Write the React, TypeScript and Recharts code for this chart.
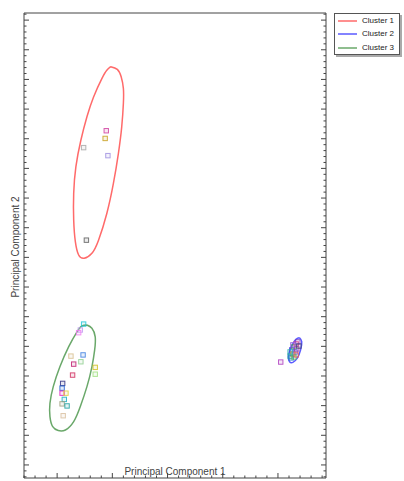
import { ComposedChart, Scatter, Line, XAxis, YAxis, Cell } from 'recharts';

// PCA scores, [PC1, PC2]
const cluster1Points = [
  [0.89, 11.27], [0.87, 11.01], [0.48, 10.7], [0.92, 10.43], [0.53, 7.58],
];
const cluster2Points = [
  [4.05, 3.47], [4.25, 3.88], [4.29, 3.98], [4.33, 4.08], [4.36, 4.15],
  [4.22, 3.67], [4.27, 3.74], [4.31, 3.81], [4.34, 3.91], [4.24, 3.61],
  [4.29, 3.64], [4.33, 3.71], [4.38, 4.01], [4.27, 4.05], [4.22, 3.81],
];
const cluster3Points = [
  [0.48, 4.75], [0.42, 4.55], [0.39, 4.46], [0.25, 3.67], [0.47, 3.71],
  [0.3, 3.4], [0.43, 3.48], [0.69, 3.29], [0.69, 3.06], [0.28, 3.03],
  [0.1, 2.75], [0.09, 2.59], [0.09, 2.42], [0.16, 2.42], [0.13, 2.21],
  [0.09, 2.06], [0.18, 1.99], [0.11, 1.66],
];

// cluster ellipses, traced round the outline
const cluster1Outline = [
  [0.97, 13.43], [1.09, 13.34], [1.16, 13.09], [1.2, 12.7], [1.2, 12.19],
  [1.17, 11.4], [1.11, 10.51], [1.02, 9.5], [0.9, 8.48], [0.75, 7.58],
  [0.63, 7.14], [0.49, 6.97], [0.39, 7.08], [0.33, 7.53], [0.3, 8.26],
  [0.3, 9.16], [0.34, 10.06], [0.43, 10.95], [0.54, 11.74], [0.66, 12.41],
  [0.81, 13.03], [0.9, 13.31], [0.97, 13.43],
];
const cluster2Outline = [
  [4.39, 4.29], [4.43, 4.16], [4.41, 3.88], [4.35, 3.6], [4.27, 3.46],
  [4.21, 3.48], [4.19, 3.65], [4.23, 3.93], [4.3, 4.18], [4.35, 4.27],
  [4.39, 4.29],
];
const cluster3Outline = [
  [0.54, 4.72], [0.63, 4.61], [0.69, 4.32], [0.68, 3.88], [0.63, 3.31],
  [0.54, 2.64], [0.42, 1.97], [0.3, 1.46], [0.15, 1.18], [0.02, 1.16],
  [-0.08, 1.29], [-0.13, 1.63], [-0.13, 2.08], [-0.07, 2.64], [0.05, 3.31],
  [0.21, 3.99], [0.36, 4.49], [0.45, 4.69], [0.54, 4.72],
];

const clusterNames = ['Cluster 1', 'Cluster 2', 'Cluster 3'];

const clusterColors = ['#ff6a6a', '#5a5aff', '#6aa86a'];
const pointColors1 = ['#d040a0', '#c8a020', '#a8a8a8', '#a090e0', '#606060'];
const pointColors2 = [
  '#b040c0', '#4040e0', '#40a040', '#e04080', '#8040c0', '#20a0a0', '#c0a020',
  '#6060ff', '#a040a0', '#2080c0', '#60c060', '#e06060', '#404080', '#9060e0', '#30b0b0',
];
const pointColors3 = [
  '#20c8d8', '#c0a0f0', '#f080f0', '#d8c090', '#4080e0', '#c02070', '#90d090',
  '#d0c020', '#a0e080', '#d03060', '#303080', '#2060d0', '#e020c0', '#e0d040',
  '#20b0c0', '#a0a080', '#20a0a0', '#d8c0a0',
];

const toXY = (pts: number[][]) => pts.map(([x, y]) => ({ x, y }));

const xTicks = Array.from({ length: 28 }, (_, i) => Math.round((-0.6 + i * 0.2) * 10) / 10);
const yTicks = Array.from({ length: 79 }, (_, i) => Math.round((-0.4 + i * 0.2) * 10) / 10);
const isMajor = (v: number) => Math.abs(v - Math.round(v)) < 1e-6;

const makeTick = (side: string) => (props: any) => {
  const { x, y, payload } = props;
  const len = isMajor(payload.value) ? 5 : 2.5;
  const dx = side === 'left' ? len : side === 'right' ? -len : 0;
  const dy = side === 'bottom' ? -len : side === 'top' ? len : 0;
  return <line x1={x} y1={y} x2={x + dx} y2={y + dy} stroke="#444" strokeWidth={1} />;
};

const Square = (props: any) => {
  const { cx, cy, fill } = props;
  if (cx == null || cy == null) return null;
  return (
    <rect
      x={cx - 2.2} y={cy - 2.2} width={4.4} height={4.4}
      fill={fill} fillOpacity={0.12} stroke={fill} strokeOpacity={0.85} strokeWidth={1}
    />
  );
};

const series = [
  { points: cluster1Points, colors: pointColors1 },
  { points: cluster2Points, colors: pointColors2 },
  { points: cluster3Points, colors: pointColors3 },
];
const outlines = [cluster1Outline, cluster2Outline, cluster3Outline];

const X_DOMAIN: [number, number] = [-0.6, 4.87];
const Y_DOMAIN: [number, number] = [-0.44, 15.24];

export default function App() {
  return (
    <div
      style={{
        position: 'absolute', left: 0, top: 0, width: 404, height: 481,
        background: '#fff', fontFamily: '"Liberation Sans", Arial, sans-serif', overflow: 'hidden',
      }}
    >
      <ComposedChart width={404} height={481} margin={{ top: 13, right: 78, bottom: 3, left: 24 }}>
        <XAxis
          type="number" dataKey="x" domain={X_DOMAIN} allowDataOverflow ticks={xTicks} interval={0}
          mirror tickSize={0} tickMargin={0} tickLine={false} tick={makeTick('bottom')}
          axisLine={{ stroke: '#444' }}
        />
        <XAxis
          xAxisId="top" orientation="top" type="number" domain={X_DOMAIN} allowDataOverflow ticks={xTicks}
          interval={0} mirror tickSize={0} tickMargin={0} tickLine={false} tick={makeTick('top')}
          axisLine={{ stroke: '#444' }}
        />
        <YAxis
          type="number" dataKey="y" domain={Y_DOMAIN} allowDataOverflow ticks={yTicks} interval={0}
          mirror tickSize={0} tickMargin={0} tickLine={false} tick={makeTick('left')}
          axisLine={{ stroke: '#444' }}
        />
        <YAxis
          yAxisId="right" orientation="right" type="number" domain={Y_DOMAIN} allowDataOverflow ticks={yTicks}
          interval={0} mirror tickSize={0} tickMargin={0} tickLine={false} tick={makeTick('right')}
          axisLine={{ stroke: '#444' }}
        />
        {series.map((s, i) => (
          <Scatter key={'pts' + i} data={toXY(s.points)} shape={Square} isAnimationActive={false}>
            {s.points.map((_, j) => (
              <Cell key={j} fill={s.colors[j % s.colors.length]} />
            ))}
          </Scatter>
        ))}
        {outlines.map((o, i) => (
          <Line
            key={'ell' + i} data={toXY(o)} dataKey="y" type="natural" stroke={clusterColors[i]}
            strokeWidth={1.5} dot={false} activeDot={false} isAnimationActive={false}
          />
        ))}
      </ComposedChart>

      <div
        style={{
          position: 'absolute', left: 75, top: 466, width: 200, textAlign: 'center',
          fontSize: 10, lineHeight: '12px', color: '#444',
        }}
      >
        Principal Component 1
      </div>
      <div
        style={{
          position: 'absolute', left: -84, top: 241, width: 200, height: 12, textAlign: 'center',
          fontSize: 10, lineHeight: '12px', color: '#444', transform: 'rotate(-90deg)',
        }}
      >
        Principal Component 2
      </div>

      <div
        style={{
          position: 'absolute', left: 334, top: 13, width: 64, height: 40,
          border: '1px solid #555', boxShadow: '2px 2px 0 #aaa', background: '#fff',
        }}
      >
        {clusterNames.map((name, i) => (
          <div
            key={name}
            style={{ position: 'absolute', left: 3, top: 2 + i * 13.3, height: 10, display: 'flex', alignItems: 'center' }}
          >
            <svg width={20} height={10}>
              <line x1={0} y1={5} x2={19} y2={5} stroke={clusterColors[i]} strokeWidth={1.5} />
            </svg>
            <span style={{ marginLeft: 4, fontSize: 8, color: '#222', lineHeight: '10px', whiteSpace: 'nowrap' }}>{name}</span>
          </div>
        ))}
      </div>
    </div>
  );
}
